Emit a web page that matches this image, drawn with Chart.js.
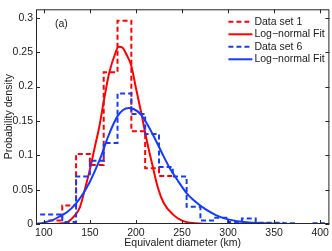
<!DOCTYPE html>
<html>
<head>
<meta charset="utf-8">
<script src="https://cdn.jsdelivr.net/npm/chart.js@4.4.1/dist/chart.umd.min.js"></script>
<style>
  html, body { margin: 0; padding: 0; background: #fff; }
</style>
</head>
<body>
<canvas id="chart" width="332" height="251"></canvas>
<script>
// axis ticks
const xTicks = [100, 150, 200, 250, 300, 350, 400];
const yTicks = [0, 0.05, 0.1, 0.15, 0.2, 0.25, 0.3];

// histogram of data set 1 (bin edges + density per bin)
const set1Edges = [105, 120, 135, 150, 165, 180, 195, 210, 225, 240];
const set1Density = [0.005, 0.027, 0.102, 0.086, 0.221, 0.296, 0.135, 0.081, 0.07];

// histogram of data set 6
const set6Edges = [96, 120, 135, 150, 165, 180, 195, 210, 225, 240, 255, 270, 285, 300, 315, 330, 345, 360, 375, 390, 405];
const set6Density = [0.014, 0.003, 0.069, 0.092, 0.118, 0.19, 0.16, 0.131, 0.083, 0.069, 0.025, 0.005, 0.009, 0.003, 0.008, 0.002, 0.002, 0.001, 0, 0.001];

// log-normal fits
const fit1X = [92, 100, 110, 120, 126, 132, 139, 146, 151, 155, 160, 165, 171, 178, 181, 185, 190, 195, 200, 206, 212, 218, 224, 230, 240, 250, 265, 280, 300, 340, 410];
const fit1Y = [0, 0, 0, 0.001, 0.003, 0.010, 0.024, 0.058, 0.085, 0.110, 0.140, 0.178, 0.220, 0.250, 0.258, 0.257, 0.246, 0.230, 0.198, 0.160, 0.120, 0.085, 0.052, 0.031, 0.014, 0.005, 0.001, 0, 0, 0, 0];

const fit6X = [92, 100, 110, 117, 125, 135, 142, 149, 155, 162, 170, 180, 186, 192, 198, 205, 212, 220, 228, 236, 245, 255, 265, 275, 290, 310, 340, 370, 410];
const fit6Y = [0, 0.002, 0.006, 0.011, 0.017, 0.030, 0.043, 0.059, 0.076, 0.098, 0.128, 0.157, 0.166, 0.169, 0.167, 0.160, 0.146, 0.126, 0.104, 0.083, 0.064, 0.045, 0.032, 0.022, 0.011, 0.004, 0.001, 0, 0];

const RED = 'rgb(255, 0, 0)';
const BLUE = 'rgb(20, 60, 255)';
const FONT = "'Liberation Sans', Arial, sans-serif";

function stairs(edges, vals) {
    const pts = vals.map((v, i) => ({ x: edges[i], y: v }));
    pts.push({ x: edges[vals.length], y: vals[vals.length - 1] });
    return pts;
}

function curve(xs, ys) {
    return xs.map((x, i) => ({ x: x, y: ys[i] }));
}

const frameAndLegend = {
    id: 'frameAndLegend',
    afterDatasetsDraw(chart) {
        const { ctx, chartArea: a, scales: { x, y } } = chart;
        ctx.save();
        ctx.strokeStyle = '#262626';
        ctx.lineWidth = 1;
        ctx.strokeRect(a.left + 0.5, a.top + 0.5, a.right - a.left - 1, a.bottom - a.top - 1);

        ctx.beginPath();
        xTicks.forEach(v => {
            const px = Math.round(x.getPixelForValue(v)) + 0.5;
            ctx.moveTo(px, a.bottom); ctx.lineTo(px, a.bottom - 4);
            ctx.moveTo(px, a.top); ctx.lineTo(px, a.top + 4);
        });
        yTicks.forEach(v => {
            const py = Math.round(y.getPixelForValue(v)) + 0.5;
            ctx.moveTo(a.left, py); ctx.lineTo(a.left + 4, py);
            ctx.moveTo(a.right, py); ctx.lineTo(a.right - 4, py);
        });
        ctx.stroke();

        ctx.fillStyle = '#1a1a1a';
        ctx.font = '10.5px ' + FONT;
        ctx.textBaseline = 'middle';
        ctx.textAlign = 'left';
        ctx.fillText('(a)', a.left + 19, a.top + 15);

        // legend
        const items = [chart.data.datasets[0], chart.data.datasets[1], chart.data.datasets[2], chart.data.datasets[3]];
        items.forEach((ds, i) => {
            const cy = a.top + 12.5 + i * 12.5;
            ctx.beginPath();
            ctx.strokeStyle = ds.borderColor;
            ctx.lineWidth = 2;
            ctx.setLineDash(ds.borderDash || []);
            ctx.moveTo(a.right - 101, cy);
            ctx.lineTo(a.right - 77, cy);
            ctx.stroke();
            ctx.setLineDash([]);
            ctx.fillStyle = '#1a1a1a';
            ctx.fillText(ds.label, a.right - 75, cy);
        });
        ctx.restore();
    }
};

new Chart(document.getElementById('chart'), {
    type: 'line',
    data: {
        datasets: [
            {
                label: 'Data set 1',
                data: stairs(set1Edges, set1Density),
                stepped: true,
                borderColor: RED,
                borderDash: [5, 3],
                borderWidth: 2,
                pointRadius: 0,
                order: 3
            },
            {
                label: 'Log\u2212normal Fit',
                data: curve(fit1X, fit1Y),
                cubicInterpolationMode: 'monotone',
                borderColor: RED,
                borderWidth: 2,
                pointRadius: 0,
                order: 2
            },
            {
                label: 'Data set 6',
                data: stairs(set6Edges, set6Density),
                stepped: true,
                borderColor: BLUE,
                borderDash: [5, 3],
                borderWidth: 2,
                pointRadius: 0,
                order: 1
            },
            {
                label: 'Log\u2212normal Fit',
                data: curve(fit6X, fit6Y),
                cubicInterpolationMode: 'monotone',
                borderColor: BLUE,
                borderWidth: 2,
                pointRadius: 0,
                order: 0
            }
        ]
    },
    options: {
        responsive: false,
        animation: false,
        devicePixelRatio: 1,
        layout: { padding: { left: 0, right: 2, top: 1, bottom: 0 } },
        plugins: {
            legend: { display: false },
            tooltip: { enabled: false }
        },
        scales: {
            x: {
                type: 'linear',
                min: 91.5,
                max: 410,
                grid: { display: false, drawTicks: false },
                border: { display: false },
                afterBuildTicks: s => { s.ticks = xTicks.map(v => ({ value: v })); },
                afterFit: s => { s.height = 27; },
                ticks: {
                    color: '#1a1a1a',
                    padding: 3,
                    maxRotation: 0,
                    font: { family: FONT, size: 10.5 },
                    callback: v => String(v)
                },
                title: {
                    display: true,
                    text: 'Equivalent diameter (km)',
                    color: '#1a1a1a',
                    font: { family: FONT, size: 10.5 },
                    padding: { top: 0, bottom: 2 }
                }
            },
            y: {
                min: 0,
                max: 0.3125,
                grid: { display: false, drawTicks: false },
                border: { display: false },
                afterBuildTicks: s => { s.ticks = yTicks.map(v => ({ value: v })); },
                afterFit: s => { s.width = 36; },
                ticks: {
                    color: '#1a1a1a',
                    padding: 3,
                    font: { family: FONT, size: 10.5 },
                    callback: v => String(v)
                },
                title: {
                    display: true,
                    text: 'Probability density',
                    color: '#1a1a1a',
                    font: { family: FONT, size: 10.5 },
                    padding: { top: 3, bottom: 0 }
                }
            }
        }
    },
    plugins: [frameAndLegend]
});
</script>
</body>
</html>
